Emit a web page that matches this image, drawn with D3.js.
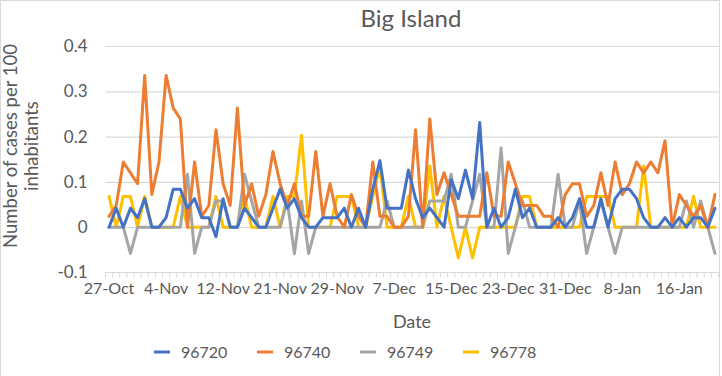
<!DOCTYPE html>
<html>
<head>
<meta charset="utf-8">
<script src="https://cdn.jsdelivr.net/npm/d3@7"></script>
<style>
body { margin: 0; background: #fff; }
svg { display: block; font-family: Lato, "Open Sans", sans-serif; }
</style>
</head>
<body>
<div id="chart-area"></div>
<script>
// categories (one date is missing in the source sheet between 12-Nov and 21-Nov)
var dates = ["27-Oct","28-Oct","29-Oct","30-Oct","31-Oct",
  "1-Nov","2-Nov","3-Nov","4-Nov","5-Nov","6-Nov","7-Nov","8-Nov","9-Nov","10-Nov",
  "11-Nov","12-Nov","13-Nov","14-Nov","15-Nov","16-Nov","18-Nov","19-Nov","20-Nov","21-Nov",
  "22-Nov","23-Nov","24-Nov","25-Nov","26-Nov","27-Nov","28-Nov","29-Nov","30-Nov",
  "1-Dec","2-Dec","3-Dec","4-Dec","5-Dec","6-Dec","7-Dec","8-Dec","9-Dec","10-Dec",
  "11-Dec","12-Dec","13-Dec","14-Dec","15-Dec","16-Dec","17-Dec","18-Dec","19-Dec","20-Dec",
  "21-Dec","22-Dec","23-Dec","24-Dec","25-Dec","26-Dec","27-Dec","28-Dec","29-Dec","30-Dec","31-Dec",
  "1-Jan","2-Jan","3-Jan","4-Jan","5-Jan","6-Jan","7-Jan","8-Jan","9-Jan","10-Jan",
  "11-Jan","12-Jan","13-Jan","14-Jan","15-Jan","16-Jan","17-Jan","18-Jan","19-Jan","20-Jan","21-Jan"];

var s96720 = [0,0.042,0,0.042,0.021,0.063,0,0,0.021,0.084,
  0.084,0.042,0.063,0.021,0.021,-0.021,0.063,0,0,0.042,
  0.021,0,0,0.042,0.084,0.042,0.063,0.021,0,0,
  0.021,0.021,0.021,0.042,0,0.042,0,0.084,0.147,0.042,
  0.042,0.042,0.126,0.063,0.021,0.042,0.021,0,0.105,0.063,
  0.126,0.063,0.231,0,0.042,0,0.021,0.084,0.021,0.042,
  0,0,0,0.021,0,0.021,0.063,0,0,0.063,
  0,0.063,0.084,0.084,0.063,0.021,0,0,0.021,0,
  0.021,0,0.021,0.021,0,0.042];

var s96740 = [0.024,0.048,0.144,0.12,0.096,0.335,0.072,0.144,0.335,0.263,
  0.239,0,0.144,0.024,0.048,0.215,0.096,0.048,0.263,0.048,
  0.096,0.024,0.072,0.167,0.096,0.048,0.096,0.024,0.024,0.167,
  0.024,0.096,0.024,0,0.072,0.024,0,0.144,0.024,0.024,
  0,0,0.024,0.215,0,0.239,0.072,0.12,0.072,0.024,
  0.024,0.024,0.024,0.12,0.024,0.024,0.144,0.096,0.048,0.048,
  0.048,0.024,0.024,0,0.072,0.096,0.096,0.024,0.048,0.12,
  0.048,0.144,0.072,0.096,0.144,0.12,0.144,0.12,0.191,0,
  0.072,0.048,0.024,0.048,0,0.072];

var s96749 = [0,0,0,-0.058,0,0,0,0,0,0,
  0,0.117,-0.058,0,0,0.058,0.058,0,0,0.117,
  0.058,0,0,0,0,0.058,-0.058,0.058,-0.058,0,
  0,0,0,0,0,0,0,0,0,0.058,
  0,0,0,0,0,0.058,0.058,0.058,0.117,0,
  0,0.058,0.117,0,0,0.175,-0.058,0,0.058,0,
  0,0,0,0.117,0,0,0.058,-0.058,0,0.058,
  0,-0.058,0,0,0,0,0,0,0,0,
  0,0.058,0,0.058,0,-0.058];

var s96778 = [0.068,0,0.068,0.068,0,0.068,0,0,0,0,
  0.068,0,0,0,0,0.068,0,0,0,0.068,
  0,0,0,0.068,0,0.068,0.068,0.203,0,0,
  0,0,0.068,0.068,0.068,0,0,0.068,0.135,0,
  0,0,0.068,0,0,0.135,0,0.068,0,-0.068,
  0,-0.068,0,0,0,0,0,0,0.068,0.068,
  0,0,0,0,0,0,0,0.068,0.068,0.068,
  0.068,0,0,0,0,0.135,0,0,0,0,
  0,0,0.068,0,0,0];

var seriesNames = ["96720", "96740", "96749", "96778"];
var seriesColors = ["#4472C4", "#ED7D31", "#A5A5A5", "#FFC000"];
var yTicks = [-0.1, 0, 0.1, 0.2, 0.3, 0.4];
var xLabels = ["27-Oct","4-Nov","12-Nov","21-Nov","29-Nov","7-Dec","15-Dec","23-Dec","31-Dec","8-Jan","16-Jan"];

var series = [s96720, s96740, s96749, s96778].map(function(vals, i){
	return {name: seriesNames[i], color: seriesColors[i], values: vals};
});

var W = 722, H = 376;
var margin = {left:105.5, right:3.5, top:46, bottom:103.5};
var width = W - margin.left - margin.right;
var height = H - margin.top - margin.bottom;
var textColor = "#595959";

var svg = d3.select("#chart-area").append("svg")
	.attr("width", W)
	.attr("height", H);

// chart border
svg.append("rect")
	.attr("x", 0.5).attr("y", 0.5)
	.attr("width", 719).attr("height", 390)
	.attr("fill", "none")
	.attr("stroke", "#d9d9d9");

var g = svg.append("g")
	.attr("transform", "translate(" + margin.left + "," + margin.top + ")");

var x = d3.scaleBand()
	.domain(dates)
	.range([0, width]);

var y = d3.scaleLinear()
	.domain([-0.1, 0.4])
	.range([height, 0]);

// gridlines
g.append("g")
	.attr("class", "grid")
	.call(d3.axisLeft(y).tickValues(yTicks.filter(function(d){ return d > -0.1; })).tickSize(-width).tickFormat(""))
	.call(function(s){
		s.select(".domain").remove();
		s.selectAll("line").attr("stroke", "#d9d9d9").attr("stroke-width", 1.2);
	});

// y axis labels
g.append("g")
	.attr("class", "y axis")
	.call(d3.axisLeft(y).tickValues(yTicks).tickSize(0).tickPadding(18).tickFormat(function(d){ return String(d); }))
	.call(function(s){
		s.select(".domain").remove();
		s.selectAll("text").attr("font-size", "17px").attr("fill", textColor).attr("font-family", "Lato, sans-serif");
	});

// x axis line + category tick marks
g.append("line")
	.attr("x1", 0).attr("x2", width)
	.attr("y1", height).attr("y2", height)
	.attr("stroke", "#d9d9d9").attr("stroke-width", 1.2);

var bounds = dates.map(function(d){ return x(d); }).concat([width]);
g.selectAll(".cat-tick")
	.data(bounds)
	.enter().append("line")
	.attr("class", "cat-tick")
	.attr("x1", function(d){ return d; }).attr("x2", function(d){ return d; })
	.attr("y1", height).attr("y2", height + 5)
	.attr("stroke", "#d9d9d9");

g.append("g")
	.attr("class", "x axis")
	.attr("transform", "translate(0," + height + ")")
	.call(d3.axisBottom(x).tickValues(xLabels).tickSize(0).tickPadding(10))
	.call(function(s){
		s.select(".domain").remove();
		s.selectAll("text").attr("font-size", "16px").attr("fill", textColor).attr("font-family", "Lato, sans-serif");
	});

// lines, drawn last series first so 96720 sits on top
var line = d3.line()
	.x(function(d, i){ return x(dates[i]) + x.bandwidth() / 2; })
	.y(function(d){ return y(d); });

g.selectAll(".series")
	.data(series.slice().reverse())
	.enter().append("path")
	.attr("class", "series")
	.attr("d", function(d){ return line(d.values); })
	.attr("fill", "none")
	.attr("stroke", function(d){ return d.color; })
	.attr("stroke-width", 3)
	.attr("stroke-linejoin", "round")
	.attr("stroke-linecap", "round");

// title
svg.append("text")
	.attr("x", 411)
	.attr("y", 27)
	.attr("text-anchor", "middle")
	.attr("font-size", "24px")
	.attr("fill", textColor)
	.text("Big Island");

// X label
svg.append("text")
	.attr("x", 412)
	.attr("y", 328)
	.attr("text-anchor", "middle")
	.attr("font-size", "18px")
	.attr("fill", textColor)
	.text("Date");

// Y label (two lines)
var yTitle = svg.append("text")
	.attr("transform", "translate(0,146) rotate(-90)")
	.attr("text-anchor", "middle")
	.attr("font-size", "18.5px")
	.attr("fill", textColor);
yTitle.append("tspan").attr("x", 0).attr("y", 17).text("Number of cases per 100");
yTitle.append("tspan").attr("x", 0).attr("y", 38).text("inhabitants");

// legend
var legend = svg.selectAll(".legend")
	.data(series)
	.enter().append("g")
	.attr("class", "legend")
	.attr("transform", function(d, i){ return "translate(" + (154 + i * 103) + ",352)"; });

legend.append("line")
	.attr("x1", 0).attr("x2", 16)
	.attr("y1", 0).attr("y2", 0)
	.attr("stroke", function(d){ return d.color; })
	.attr("stroke-width", 3);

legend.append("text")
	.attr("x", 27)
	.attr("y", 6)
	.attr("font-size", "16px")
	.attr("fill", textColor)
	.text(function(d){ return d.name; });
</script>
</body>
</html>
